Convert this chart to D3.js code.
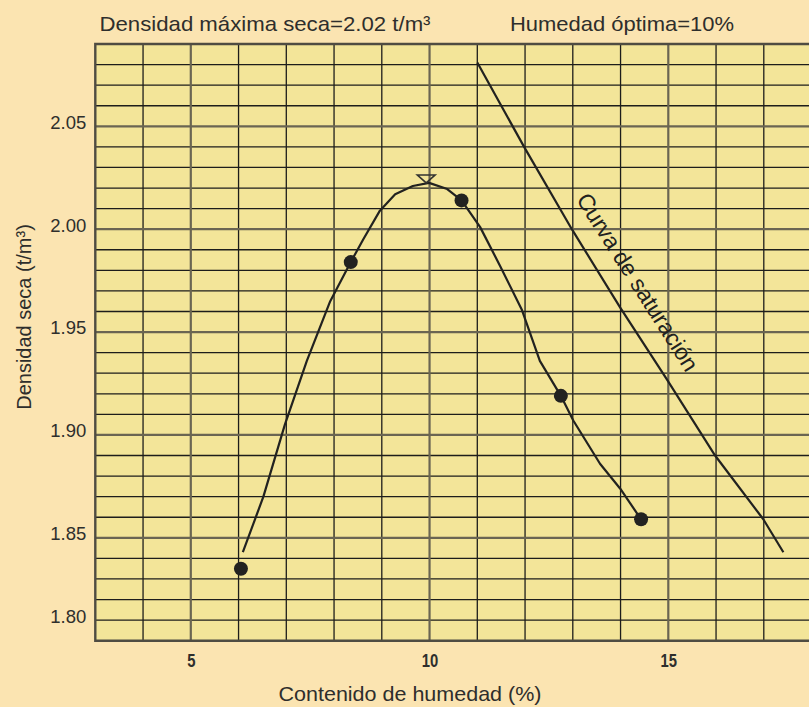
<!DOCTYPE html>
<html>
<head>
<meta charset="utf-8">
<script src="https://cdn.jsdelivr.net/npm/d3@7"></script>
<style>
    body { margin: 0; background: #fbe4b1; }
    svg { display: block; }
</style>
</head>
<body>
<script>
// Ensayo Proctor: puntos medidos, curva de compactacion y curva de saturacion

var moisture = [6.05, 8.35, 10.67, 12.75, 14.43];
var density = [1.835, 1.984, 2.014, 1.919, 1.859];

var curveMoisture = [6.09, 6.52, 6.97, 7.43, 7.92, 8.35, 8.61, 8.96, 9.28, 9.65, 9.99, 10.37, 10.67, 11.06, 11.48, 11.93, 12.31, 12.75, 13.01, 13.57, 13.99, 14.43];
var curveDensity = [1.843, 1.870, 1.905, 1.936, 1.965, 1.984, 1.995, 2.009, 2.017, 2.021, 2.0225, 2.0195, 2.014, 2.001, 1.982, 1.961, 1.936, 1.919, 1.907, 1.886, 1.874, 1.859];

var satMoisture = [11.0, 11.98, 12.98, 13.99, 14.97, 15.98, 16.99, 17.41];
var satDensity = [2.081, 2.040, 2.000, 1.962, 1.927, 1.890, 1.859, 1.843];

var optimum = [9.93, 2.0225];

var xTicks = [5, 10, 15];
var yTicks = [1.81, 1.85, 1.90, 1.95, 2.00, 2.05];
var yTickLabels = ["1.80", "1.85", "1.90", "1.95", "2.00", "2.05"];

var titleLeft = "Densidad máxima seca=2.02 t/m³";
var titleRight = "Humedad óptima=10%";
var xTitle = "Contenido de humedad (%)";
var yTitle = "Densidad seca (t/m³)";
var satLabel = "Curva de saturación";

var width = 809, height = 707;
var plotLeft = 95.3, plotTop = 44, plotBottom = 640.7;

var x = d3.scaleLinear().domain([3, 18]).range([plotLeft, plotLeft + 15 * 47.75]);
var y = d3.scaleLinear().domain([1.80, 2.09]).range([plotBottom, plotTop]);

var svg = d3.select("body").append("svg")
    .attr("width", width)
    .attr("height", height);

svg.append("rect")
    .attr("width", width)
    .attr("height", height)
    .attr("fill", "#fbe4b1");

svg.append("rect")
    .attr("x", x(3))
    .attr("y", y(2.09))
    .attr("width", x(18) - x(3))
    .attr("height", y(1.80) - y(2.09))
    .attr("fill", "#f3e599");

// rejilla fina
var grid = svg.append("g");
var vLines = d3.range(4, 18, 1);
var hLines = d3.range(181, 209, 1).map(function(d) { return d / 100; });

grid.selectAll(".vthin")
    .data(vLines.filter(function(d) { return d % 5 != 0; }))
    .enter().append("line")
    .attr("x1", function(d) { return x(d); })
    .attr("x2", function(d) { return x(d); })
    .attr("y1", y(2.09))
    .attr("y2", y(1.80))
    .attr("stroke", "#1d1d1b")
    .attr("stroke-width", 1.3);

grid.selectAll(".hthin")
    .data(hLines.filter(function(d) { return Math.round(d * 100) % 5 != 0; }))
    .enter().append("line")
    .attr("x1", x(3))
    .attr("x2", x(18))
    .attr("y1", function(d) { return y(d); })
    .attr("y2", function(d) { return y(d); })
    .attr("stroke", "#1d1d1b")
    .attr("stroke-width", 1.3);

// lineas gruesas cada 5 / cada 0.05
grid.selectAll(".vthick")
    .data(xTicks)
    .enter().append("line")
    .attr("x1", function(d) { return x(d); })
    .attr("x2", function(d) { return x(d); })
    .attr("y1", y(2.09))
    .attr("y2", y(1.80))
    .attr("stroke", "#6a6552")
    .attr("stroke-width", 2.2);

grid.selectAll(".hthick")
    .data(hLines.filter(function(d) { return Math.round(d * 100) % 5 == 0; }))
    .enter().append("line")
    .attr("x1", x(3))
    .attr("x2", x(18))
    .attr("y1", function(d) { return y(d); })
    .attr("y2", function(d) { return y(d); })
    .attr("stroke", "#6a6552")
    .attr("stroke-width", 2.2);

// borde
svg.append("path")
    .attr("d", "M" + x(18) + "," + y(2.09) + "H" + x(3) + "V" + y(1.80) + "H" + x(18))
    .attr("fill", "none")
    .attr("stroke", "#4f4c42")
    .attr("stroke-width", 2.4);

// ejes
var yAxis = svg.append("g")
    .attr("transform", "translate(" + plotLeft + ",0)")
    .call(d3.axisLeft(y).tickValues(yTicks).tickSize(0).tickPadding(9)
        .tickFormat(function(d, i) { return yTickLabels[i]; }));
yAxis.select(".domain").remove();
yAxis.selectAll("text")
    .attr("y", -4)
    .attr("fill", "#2e2e2c")
    .style("font-family", "'Liberation Sans', Arial, sans-serif")
    .style("font-size", "18.5px");

var xAxis = svg.append("g")
    .attr("transform", "translate(0," + plotBottom + ")")
    .call(d3.axisBottom(x).tickValues(xTicks).tickSize(0).tickPadding(0));
xAxis.select(".domain").remove();
xAxis.selectAll("text")
    .attr("y", 0)
    .attr("dy", 0)
    .attr("fill", "#2e2e2c")
    .attr("transform", "translate(0,26) scale(0.78,1)")
    .style("font-family", "'Liberation Sans', sans-serif")
    .style("font-weight", "bold")
    .style("font-size", "19px");

// titulos
var textFont = "'Liberation Sans', sans-serif";

svg.append("text")
    .attr("x", 99.5)
    .attr("y", 30.5)
    .attr("fill", "#2e2e2c")
    .style("font-family", textFont)
    .style("font-size", "21px")
    .attr("textLength", 331)
    .attr("lengthAdjust", "spacingAndGlyphs")
    .text(titleLeft);

svg.append("text")
    .attr("x", 510)
    .attr("y", 30.5)
    .attr("fill", "#2e2e2c")
    .style("font-family", textFont)
    .style("font-size", "21px")
    .attr("textLength", 224)
    .attr("lengthAdjust", "spacingAndGlyphs")
    .text(titleRight);

svg.append("text")
    .attr("x", 278.5)
    .attr("y", 701)
    .attr("fill", "#2e2e2c")
    .style("font-family", textFont)
    .style("font-size", "21px")
    .attr("textLength", 263)
    .attr("lengthAdjust", "spacingAndGlyphs")
    .text(xTitle);

svg.append("text")
    .attr("transform", "translate(31,317) rotate(-90)")
    .attr("text-anchor", "middle")
    .attr("fill", "#2e2e2c")
    .style("font-family", "'Liberation Sans', Arial, sans-serif")
    .style("font-size", "20px")
    .text(yTitle);

// curva de saturacion
var line = d3.line()
    .x(function(d) { return x(d[0]); })
    .y(function(d) { return y(d[1]); });

svg.append("path")
    .attr("d", line(d3.zip(satMoisture, satDensity)))
    .attr("fill", "none")
    .attr("stroke", "#222220")
    .attr("stroke-width", 2.2);

svg.append("text")
    .attr("transform", "translate(" + x(14.36) + "," + y(1.9743) + ") rotate(57.5)")
    .attr("text-anchor", "middle")
    .attr("dy", "0.35em")
    .attr("fill", "#222220")
    .style("font-family", "'Liberation Sans', Arial, sans-serif")
    .style("font-size", "23px")
    .text(satLabel);

// curva de compactacion
svg.append("path")
    .attr("d", line(d3.zip(curveMoisture, curveDensity)))
    .attr("fill", "none")
    .attr("stroke", "#222220")
    .attr("stroke-width", 2.2)
    .attr("stroke-linejoin", "round");

svg.selectAll(".pt")
    .data(d3.zip(moisture, density))
    .enter().append("circle")
    .attr("cx", function(d) { return x(d[0]); })
    .attr("cy", function(d) { return y(d[1]); })
    .attr("r", 7)
    .attr("fill", "#222220");

// triangulo del optimo
var ox = x(optimum[0]), oy = y(optimum[1]);
svg.append("path")
    .attr("d", "M" + (ox - 9) + "," + (oy - 8) + "H" + (ox + 9) + "L" + ox + "," + oy + "Z")
    .attr("fill", "none")
    .attr("stroke", "#333330")
    .attr("stroke-width", 1.5);
</script>
</body>
</html>
